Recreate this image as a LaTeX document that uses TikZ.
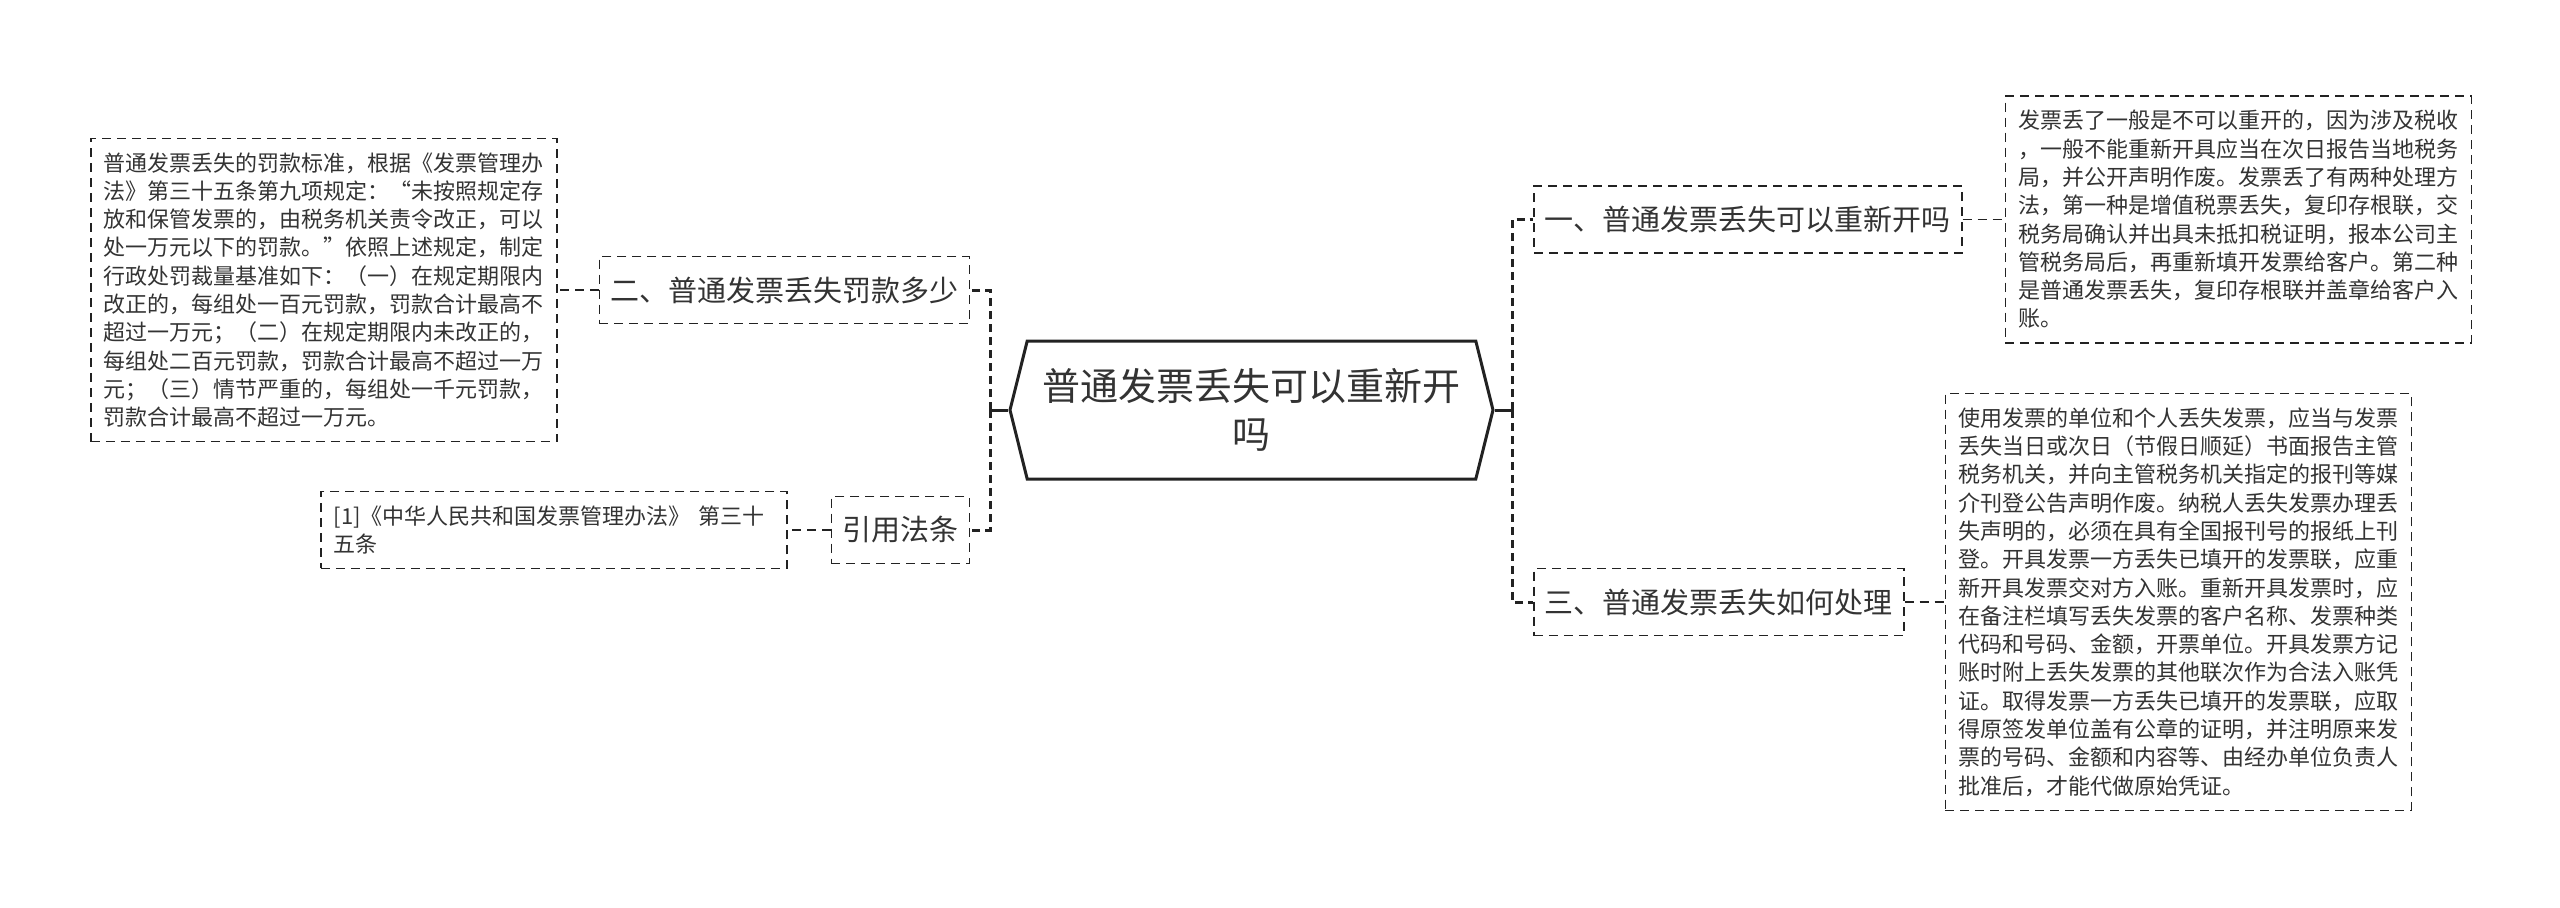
\documentclass[tikz,border=0pt]{standalone}
\usepackage{fontspec}
\setmainfont{Noto Sans CJK SC}
\usepackage{tikz}
\usetikzlibrary{positioning, shapes.symbols}

\definecolor{linegray}{HTML}{222222}
\definecolor{textgray}{HTML}{333333}

\begin{document}
\begin{tikzpicture}[
    x=0.5pt, y=-0.5pt,
    node distance=20.5pt,
    topic/.style={shape=signal, signal to=west and east, signal pointer angle=152, draw=linegray, line width=1.5pt, minimum width=241.5pt, minimum height=69pt, inner sep=0pt, align=center, text=textgray, font=\fontsize{19}{24}\selectfont},
    branch/.style={rectangle, draw=linegray, line width=0.75pt, dash pattern=on 4.5pt off 3pt, inner xsep=5.5pt, inner ysep=0pt, minimum height=33.5pt, text=textgray, font=\fontsize{14.5}{17}\selectfont},
    leaf/.style={rectangle, draw=linegray, line width=0.75pt, dash pattern=on 4.5pt off 3pt, text width=220pt, inner xsep=6.5pt, inner ysep=7pt, align=left, text=textgray, font=\fontsize{11}{14.15}\selectfont},
    rootlink/.style={draw=linegray, line width=1.5pt},
    trunk/.style={draw=linegray, line width=1.5pt, dash pattern=on 4pt off 2.5pt},
    leaflink/.style={draw=linegray, line width=0.75pt, dash pattern=on 4.5pt off 3pt}
]
\useasboundingbox (0,0) rectangle (2560,907);

% --- 中心主题 ---
\node[topic] (root) at (1251.5,410) {普通发票丢失可以重新开\\吗};

% --- 左侧分支 ---
\node[branch, anchor=east] (fine) at (970,290) {二、普通发票丢失罚款多少};
\node[branch, anchor=east] (law) at (970,530) {引用法条};

\node[leaf, left=of fine] (finetext)
    {普通发票丢失的罚款标准，根据《发票管理办\\
     法》第三十五条第九项规定：“未按照规定存\\
     放和保管发票的，由税务机关责令改正，可以\\
     处一万元以下的罚款。”依照上述规定，制定\\
     行政处罚裁量基准如下：（一）在规定期限内\\
     改正的，每组处一百元罚款，罚款合计最高不\\
     超过一万元；（二）在规定期限内未改正的，\\
     每组处二百元罚款，罚款合计最高不超过一万\\
     元；（三）情节严重的，每组处一千元罚款，\\
     罚款合计最高不超过一万元。};

\node[leaf, left=21.5pt of law] (lawtext)
    {[1]《中华人民共和国发票管理办法》 第三十\\
     五条};

% --- 右侧分支 ---
\node[branch, anchor=west] (reissue) at (1533,219.5) {一、普通发票丢失可以重新开吗};
\node[branch, anchor=west] (handle) at (1533,602) {三、普通发票丢失如何处理};

\node[leaf, right=21pt of reissue] (reissuetext)
    {发票丢了一般是不可以重开的，因为涉及税收\\
     ，一般不能重新开具应当在次日报告当地税务\\
     局，并公开声明作废。发票丢了有两种处理方\\
     法，第一种是增值税票丢失，复印存根联，交\\
     税务局确认并出具未抵扣税证明，报本公司主\\
     管税务局后，再重新填开发票给客户。第二种\\
     是普通发票丢失，复印存根联并盖章给客户入\\
     账。};

\node[leaf, right=20pt of handle] (handletext)
    {使用发票的单位和个人丢失发票，应当与发票\\
     丢失当日或次日（节假日顺延）书面报告主管\\
     税务机关，并向主管税务机关指定的报刊等媒\\
     介刊登公告声明作废。纳税人丢失发票办理丢\\
     失声明的，必须在具有全国报刊号的报纸上刊\\
     登。开具发票一方丢失已填开的发票联，应重\\
     新开具发票交对方入账。重新开具发票时，应\\
     在备注栏填写丢失发票的客户名称、发票种类\\
     代码和号码、金额，开票单位。开具发票方记\\
     账时附上丢失发票的其他联次作为合法入账凭\\
     证。取得发票一方丢失已填开的发票联，应取\\
     得原签发单位盖有公章的证明，并注明原来发\\
     票的号码、金额和内容等、由经办单位负责人\\
     批准后，才能代做原始凭证。};

% === 连线 ===
\coordinate (lj) at (990,410);
\coordinate (rj) at (1512,410);

\draw[rootlink] (root.west) -- (lj);
\draw[trunk] (lj) |- (fine.east);
\draw[trunk] (lj) |- (law.east);

\draw[rootlink] (root.east) -- (rj);
\draw[trunk] (rj) |- (reissue.west);
\draw[trunk] (rj) |- (handle.west);

% 分支到说明
\draw[leaflink] (fine) -- (finetext);
\draw[leaflink] (law) -- (lawtext);
\draw[leaflink] (reissue) -- (reissuetext);
\draw[leaflink] (handle) -- (handletext);

\end{tikzpicture}
\end{document}
